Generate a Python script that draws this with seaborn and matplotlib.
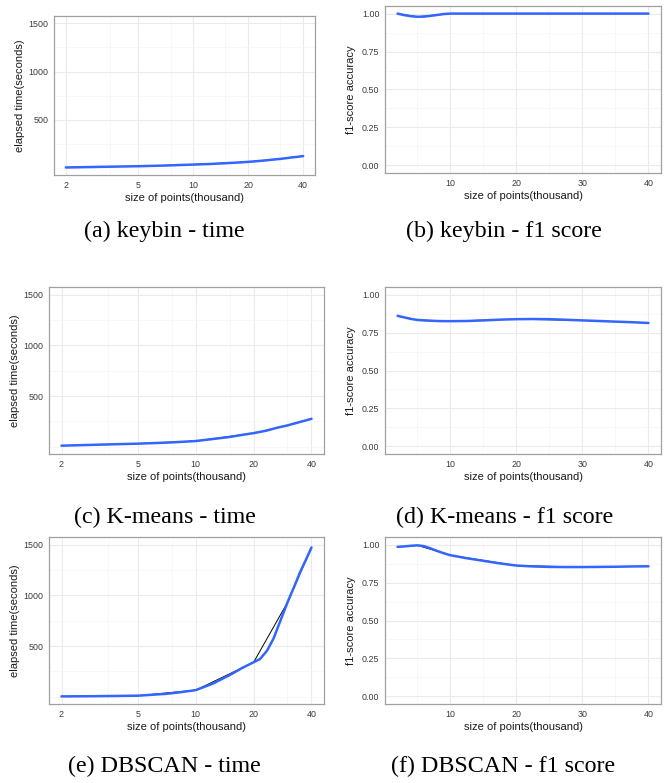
import numpy as np
import pandas as pd
import matplotlib
matplotlib.use("Agg")
import matplotlib.pyplot as plt
from matplotlib.ticker import FixedLocator, NullFormatter, FixedFormatter
import seaborn as sns

# ---------------- data ----------------
sizes = [2, 5, 10, 20, 30, 40]

keybin_time = [6, 19, 36, 64, 95, 124]
kmeans_time = [10, 30, 56, 134, 210, 275]
dbscan_time = [3, 10, 65, 340, 930, 1470]

keybin_f1 = [1.0, 0.979, 1.0, 1.0, 1.0, 1.0]
kmeans_f1 = [0.86, 0.833, 0.825, 0.838, 0.83, 0.813]
dbscan_f1 = [0.985, 0.995, 0.93, 0.862, 0.852, 0.857]

# smoothed (blue) curves
time_smooth_x = [2, 3, 5, 7, 8.3, 10, 12.3, 15, 17.5, 20, 21.6, 23.5, 25.4, 27.5, 30, 32.5, 35, 37.6, 40]
keybin_time_smooth = [6, 12, 19, 26, 31, 36, 42, 50, 57, 64, 69, 75, 81, 88, 95, 103, 111, 117, 124]
kmeans_time_smooth = [10, 19, 30, 40, 47, 56, 76, 96, 117, 134, 146, 160, 178, 194, 210, 228, 245, 261, 275]
dbscan_time_smooth = [3, 5, 10, 28, 44, 65, 130, 213, 285, 340, 372, 455, 575, 745, 930, 1085, 1234, 1360, 1472]

f1_smooth_x = [2, 3, 4, 5, 6, 7, 8, 9, 10, 12.5, 15, 17.5, 20, 22.5, 25, 27.5, 30, 32.5, 35, 37.5, 40]
keybin_f1_smooth = [1.0, 0.99, 0.983, 0.979, 0.98, 0.985, 0.991, 0.997, 1.0, 1.0, 1.0, 1.0,
                    1.0, 1.0, 1.0, 1.0, 1.0, 1.0, 1.0, 1.0, 1.0]
kmeans_f1_smooth = [0.86, 0.85, 0.84, 0.833, 0.83, 0.828, 0.826, 0.825, 0.825, 0.826, 0.83,
                    0.835, 0.838, 0.839, 0.838, 0.834, 0.83, 0.826, 0.822, 0.818, 0.813]
dbscan_f1_smooth = [0.985, 0.988, 0.992, 0.995, 0.99, 0.975, 0.958, 0.943, 0.93, 0.91, 0.893,
                    0.876, 0.862, 0.856, 0.853, 0.852, 0.852, 0.853, 0.854, 0.856, 0.857]

time_xticks = [2, 5, 10, 20, 40]
time_xminor = [3.5, 7.5, 15, 30]
time_yticks = [500, 1000, 1500]
time_yminor = [0, 250, 750, 1250]
f1_xticks = [10, 20, 30, 40]
f1_xminor = [5, 15, 25, 35]
f1_yticks = [0.0, 0.25, 0.5, 0.75, 1.0]
f1_ytick_labels = ["0.00", "0.25", "0.50", "0.75", "1.00"]
f1_yminor = [0.125, 0.375, 0.625, 0.875]

captions = ["(a) keybin - time", "(b) keybin - f1 score",
            "(c) K-means - time", "(d) K-means - f1 score",
            "(e) DBSCAN - time", "(f) DBSCAN - f1 score"]

time_xlabel = "size of points(thousand)"
time_ylabel = "elapsed time(seconds)"
f1_ylabel = "f1-score accuracy"

# ---------------- style ----------------
sns.set_style("white")
plt.rcParams['font.family'] = ['Liberation Sans', 'DejaVu Sans']

W, H = 672, 783
fig = plt.figure(figsize=(W / 100, H / 100), dpi=100)
fig.patch.set_facecolor("white")

BLUE = "#3366FF"


def add_ax(x0, y0, x1, y1):
    return fig.add_axes([x0 / W, 1 - y1 / H, (x1 - x0) / W, (y1 - y0) / H])


def style(ax, wpx, hpx):
    ax.set_facecolor("white")
    for s in ax.spines.values():
        s.set_visible(True)
        s.set_color("#a0a0a0")
        s.set_linewidth(0.9)
    ax.set_axisbelow(True)
    ax.grid(True, which="major", color="#ebebeb", linewidth=0.8)
    ax.grid(True, which="minor", color="#f5f5f5", linewidth=0.5)
    ax.tick_params(which="major", direction="out", length=2.5, width=0.6,
                   color="#333333", labelsize=6.4, labelcolor="#3a3a3a", pad=1.5)
    ax.tick_params(which="minor", length=0)
    ax.xaxis.label.set_fontsize(8)
    ax.yaxis.label.set_fontsize(8)
    ax.xaxis.label.set_color("#1a1a1a")
    ax.yaxis.label.set_color("#1a1a1a")
    ax.xaxis.set_label_coords(0.5, -23 / hpx)
    ax.xaxis.label.set_va("center")
    ax.yaxis.set_label_coords(-34 / wpx, 0.5)
    ax.yaxis.label.set_va("center")


def time_panel(box, raw, smooth):
    x0, y0, x1, y1 = box
    ax = add_ax(*box)
    sns.lineplot(x=sizes, y=raw, ax=ax, color="black", linewidth=0.7)
    sns.lineplot(x=time_smooth_x, y=smooth, ax=ax, color=BLUE, linewidth=1.8)
    ax.set_xscale("log")
    ax.set_xlim(2 / 20 ** 0.05, 40 * 20 ** 0.05)
    ax.set_ylim(-72, 1575)
    ax.xaxis.set_major_locator(FixedLocator(time_xticks))
    ax.xaxis.set_major_formatter(FixedFormatter([str(t) for t in time_xticks]))
    ax.xaxis.set_minor_locator(FixedLocator(time_xminor))
    ax.xaxis.set_minor_formatter(NullFormatter())
    ax.yaxis.set_major_locator(FixedLocator(time_yticks))
    ax.yaxis.set_major_formatter(FixedFormatter([str(t) for t in time_yticks]))
    ax.yaxis.set_minor_locator(FixedLocator(time_yminor))
    ax.set_xlabel(time_xlabel)
    ax.set_ylabel(time_ylabel)
    style(ax, x1 - x0, y1 - y0)
    return ax


def f1_panel(box, raw, smooth):
    x0, y0, x1, y1 = box
    ax = add_ax(*box)
    sns.lineplot(x=sizes, y=raw, ax=ax, color="black", linewidth=0.7)
    sns.lineplot(x=f1_smooth_x, y=smooth, ax=ax, color=BLUE, linewidth=1.8)
    ax.set_xlim(0.1, 41.9)
    ax.set_ylim(-0.05, 1.05)
    ax.xaxis.set_major_locator(FixedLocator(f1_xticks))
    ax.xaxis.set_major_formatter(FixedFormatter([str(t) for t in f1_xticks]))
    ax.xaxis.set_minor_locator(FixedLocator(f1_xminor))
    ax.yaxis.set_major_locator(FixedLocator(f1_yticks))
    ax.yaxis.set_major_formatter(FixedFormatter(f1_ytick_labels))
    ax.yaxis.set_minor_locator(FixedLocator(f1_yminor))
    ax.set_xlabel(time_xlabel)
    ax.set_ylabel(f1_ylabel)
    style(ax, x1 - x0, y1 - y0)
    return ax


time_panel((54, 16, 315, 175), keybin_time, keybin_time_smooth)
f1_panel((385, 6, 661, 173), keybin_f1, keybin_f1_smooth)
time_panel((49, 287, 324, 454), kmeans_time, kmeans_time_smooth)
f1_panel((385, 287, 661, 454), kmeans_f1, kmeans_f1_smooth)
time_panel((49, 537, 324, 704), dbscan_time, dbscan_time_smooth)
f1_panel((385, 537, 661, 704), dbscan_f1, dbscan_f1_smooth)

cap_pos = [(164, 231), (504, 231), (165, 517), (505, 517), (164, 766), (503, 766)]
for (cx, cy), txt in zip(cap_pos, captions):
    fig.text(cx / W, 1 - cy / H, txt, ha="center", va="center", fontsize=17.3,
             family=["Liberation Serif", "DejaVu Serif"], color="black")

fig.savefig("out.png", dpi=100, facecolor="white")
